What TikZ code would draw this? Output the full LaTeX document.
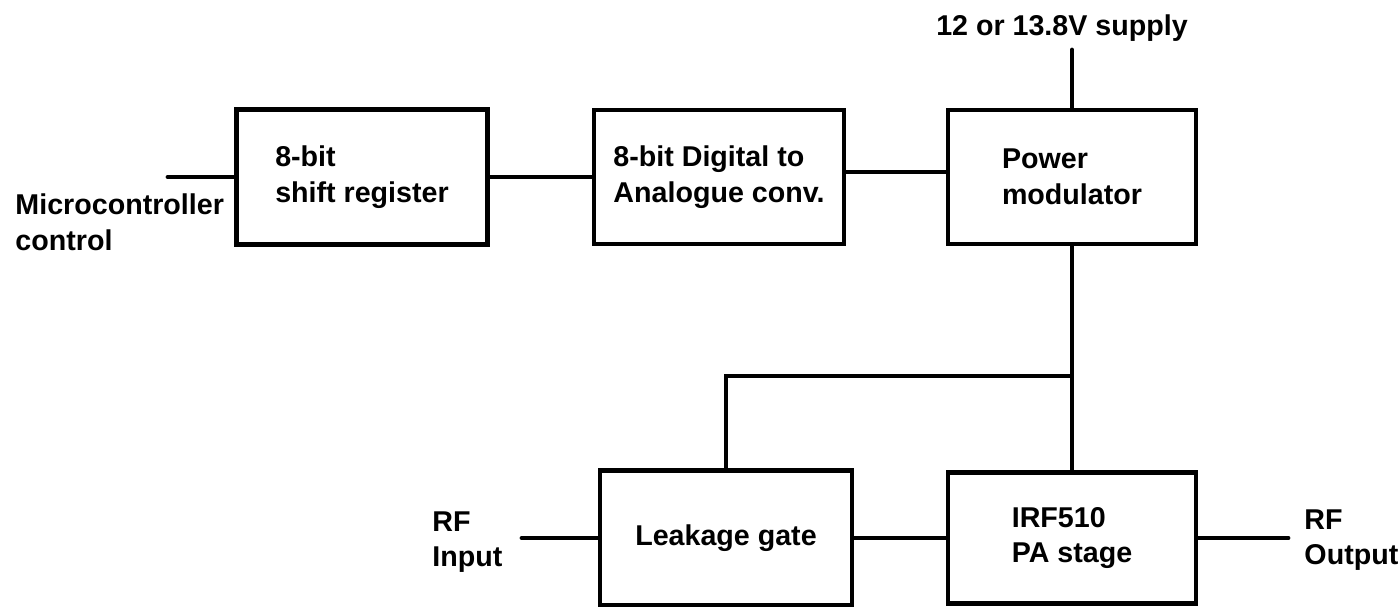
\documentclass[tikz,border=0pt]{standalone}
\usepackage{fontspec}
\setmainfont{Liberation Sans}
\begin{document}
\begin{tikzpicture}
  [x=0.02cm,y=-0.02cm,line width=2.8pt,
   every node/.style={font=\fontsize{16.3}{20.3}\selectfont\bfseries,align=left},
   blk/.style={draw,rectangle,inner sep=0pt},
   lbl/.style={inner sep=0pt}]
\useasboundingbox (0,0) rectangle (1400,606);
\node (sr)[blk,minimum width=5.02cm,minimum height=2.7cm] at (362,177) {8-bit\\shift register};
  \node (dac)[blk,minimum width=5.0cm,minimum height=2.68cm] at (719,177) {8-bit Digital to\\Analogue conv.};
  \node (pm)[blk,minimum width=4.96cm,minimum height=2.68cm] at (1072,177) {Power\\modulator};
  \node (lg)[blk,minimum width=5.04cm,minimum height=2.7cm] at (726,538) {Leakage gate};
  \node (pa)[blk,minimum width=4.96cm,minimum height=2.62cm] at (1072,538) {IRF510\\PA stage};
\node (mc)[lbl,anchor=west] at (13,222) {Microcontroller\\control};
  \node (sup)[lbl] at (1062,28) {12 or 13.8V supply};
  \node (rfi)[lbl,anchor=west] at (430,542) {RF\\Input};
  \node (rfo)[lbl,anchor=west] at (1302,540) {RF\\Output};
\coordinate (c1) at (168,177);
  \coordinate (c2) at (1072,50);
  \coordinate (c3) at (1072,376);
  \coordinate (c4) at (522,538);
  \coordinate (c5) at (1288,538);
 \foreach \from/\to in {c1/sr,sr/dac,c2/pm,pm/pa,c4/lg,lg/pa,pa/c5}
    \draw[line cap=round] (\from) -- (\to);
  \draw ([yshift=0.1cm]dac.east) -- ([yshift=0.1cm]pm.west);
  \draw[line width=2.4pt] (c3) -| (lg.north);
\end{tikzpicture}
\end{document}
